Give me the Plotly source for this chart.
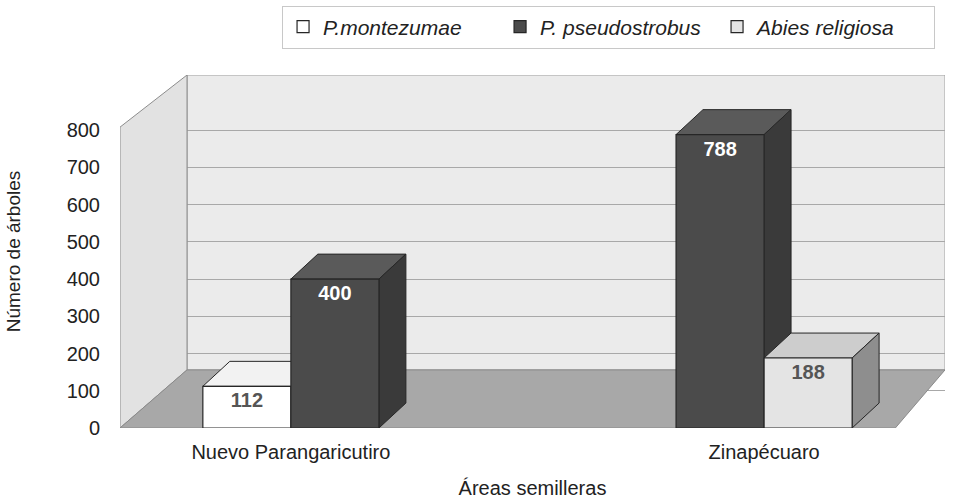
import plotly.graph_objects as go

categories = ["Nuevo Parangaricutiro", "Zinapécuaro"]
series_names = ["P.montezumae", "P. pseudostrobus", "Abies religiosa"]
montezumae = [112, None]
pseudostrobus = [400, 788]
abies = [None, 188]
y_ticks = [0, 100, 200, 300, 400, 500, 600, 700, 800]

values = [montezumae, pseudostrobus, abies]
front = ["#ffffff", "#4b4b4b", "#e4e4e4"]
top_c = ["#f2f2f2", "#5a5a5a", "#cdcdcd"]
side_c = ["#bdbdbd", "#3a3a3a", "#8e8e8e"]
text_colors = ["#555555", "#ffffff", "#555555"]

FONT = "Liberation Sans, Arial, sans-serif"
W = 0.2286          # bar width (x units)
DX, DY = 0.07, 67   # pseudo-depth of bars
XR = [-0.558, 1.584]
YR = [0, 948]
cat_pos = list(range(len(categories)))

fig = go.Figure()
shapes = []

xl = XR[0]
xb = xl + 0.174
# back wall
shapes.append(dict(type="rect", layer="below", xref="x", yref="y",
                   x0=xb, x1=XR[1], y0=156, y1=YR[1],
                   fillcolor="#ebebeb", line=dict(color="#a0a0a0", width=1)))
# left wall
shapes.append(dict(type="path", layer="between", xref="x", yref="y",
                   path=f"M{xl},0 L{xl},808 L{xb},948 L{xb},156 Z",
                   fillcolor="#e2e2e2", line=dict(color="#8c8c8c", width=1)))
# floor
shapes.append(dict(type="path", layer="between", xref="x", yref="y",
                   path=f"M{xl},0 L1.455,0 L{XR[1]},156 L{xb},156 Z",
                   fillcolor="#a8a8a8", line=dict(color="#8a8a8a", width=1)))

for i, (name, vals) in enumerate(zip(series_names, values)):
    off = (i - 1.5) * W
    fig.add_trace(go.Bar(
        name=name, x=cat_pos, y=vals, width=W, offset=off,
        marker=dict(color=front[i], line=dict(color="#262626", width=1.2)),
        text=[("" if v is None else str(v)) for v in vals],
        textposition="inside", insidetextanchor="end", textangle=0,
        textfont=dict(family=FONT, size=20, color=text_colors[i], weight="bold"),
    ))
    for j, v in enumerate(vals):
        if v is None:
            continue
        x0 = j + off
        x1 = x0 + W
        shapes.append(dict(type="path", layer="between", xref="x", yref="y",
                           path=f"M{x0},{v} L{x1},{v} L{x1+DX},{v+DY} L{x0+DX},{v+DY} Z",
                           fillcolor=top_c[i], line=dict(color="#262626", width=1)))
        shapes.append(dict(type="path", layer="between", xref="x", yref="y",
                           path=f"M{x1},0 L{x1},{v} L{x1+DX},{v+DY} L{x1+DX},{DY} Z",
                           fillcolor=side_c[i], line=dict(color="#262626", width=1)))

# category labels centred under the drawn bars of each group
tickvals = []
for j in cat_pos:
    centers = [j + (i - 1.5) * W + W / 2 for i, vals in enumerate(values) if vals[j] is not None]
    tickvals.append(sum(centers) / len(centers))

fig.update_layout(
    width=961, height=503,
    barmode="overlay",
    paper_bgcolor="#ffffff", plot_bgcolor="#ffffff",
    margin=dict(l=120, r=16, t=75, b=75, autoexpand=False),
    font=dict(family=FONT, size=20, color="#222222"),
    shapes=shapes,
    legend=dict(orientation="h", xref="container", yref="container",
                x=0.973, xanchor="right", y=1 - 27 / 503, yanchor="middle",
                font=dict(size=21, style="italic", color="#222222"),
                bordercolor="#c8c8c8", borderwidth=1, bgcolor="#ffffff",
                entrywidth=172, traceorder="normal"),
)
fig.update_xaxes(range=XR, tickvals=tickvals, ticktext=categories, showgrid=False,
                 zeroline=False, showline=False, ticks="", ticklabelstandoff=10,
                 tickfont=dict(size=20),
                 title=dict(text="Áreas semilleras", font=dict(size=20), standoff=18))
fig.update_yaxes(range=YR, tickvals=y_ticks, showgrid=True, gridcolor="#a8a8a8",
                 showline=False, ticks="", zeroline=False,
                 tickfont=dict(size=20), ticklabelstandoff=19,
                 title=dict(text="Número de árboles", font=dict(size=19), standoff=40))
fig.write_html("out.html", config={"displayModeBar": False},
               post_script="document.body.style.margin='0';")
